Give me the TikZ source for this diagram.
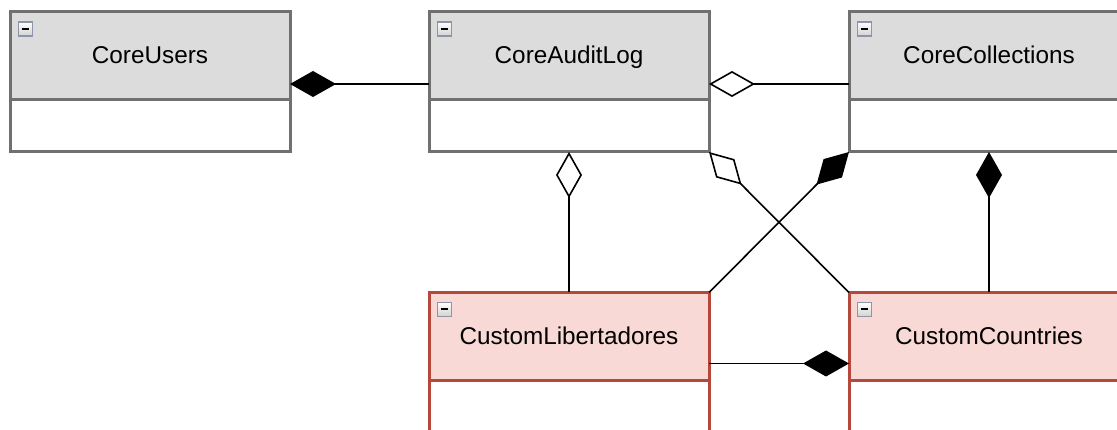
\documentclass[tikz,border=0pt]{standalone}
\usepackage{fontspec}
\setmainfont{Liberation Sans}
\usetikzlibrary{positioning,arrows.meta}
\definecolor{coregray}{HTML}{DCDCDC}
\definecolor{coreline}{HTML}{707070}
\definecolor{custpink}{HTML}{F9D9D5}
\definecolor{custline}{HTML}{B5483A}
\definecolor{iconline}{HTML}{8C96A8}
\begin{document}
\begin{tikzpicture}[x=1pt,y=-1pt,
  classhead/.style={rectangle, draw, line width=3pt, outer sep=0pt, minimum width=280pt, minimum height=88pt, text height=21pt, text depth=5pt, font=\fontsize{24.3}{29}\selectfont},
  corehead/.style={classhead, draw=coreline, fill=coregray},
  custhead/.style={classhead, draw=custline, fill=custpink},
  corebody/.style={rectangle, draw=coreline, line width=3pt, outer sep=0pt, fill=white, minimum width=280pt, minimum height=52pt},
  custbody/.style={corebody, draw=custline, minimum height=62pt},
  minusicon/.style={rectangle, draw=iconline, line width=1.5pt, top color=white, bottom color=black!18, minimum size=14pt, inner sep=0pt,
    path picture={\fill[black] ([xshift=-3.5pt,yshift=-1pt]path picture bounding box.center) rectangle ([xshift=3.5pt,yshift=1pt]path picture bounding box.center);}},
  comp/.style={draw, line width=1.6pt, -{Diamond[length=46pt,width=26pt]}},
  aggr/.style={draw, line width=1.6pt, -{Diamond[open,length=46pt,width=26pt,fill=white]}}]
\useasboundingbox (0,0) rectangle (1117,430);
\clip (0,0) rectangle (1117,430);
\node[corehead] (users) at (150,56) {CoreUsers};
\node[corebody, below=0pt of users] (usersbody) {};
\node[minusicon] (usersicon) at ([shift={(15.5pt,-17pt)}]users.north west) {};
\node[corehead] (audit) at (569,56) {CoreAuditLog};
\node[corebody, below=0pt of audit] (auditbody) {};
\node[minusicon] (auditicon) at ([shift={(15.5pt,-17pt)}]audit.north west) {};
\node[corehead] (coll) at (989,56) {CoreCollections};
\node[corebody, below=0pt of coll] (collbody) {};
\node[minusicon] (collicon) at ([shift={(15.5pt,-17pt)}]coll.north west) {};
\node[custhead] (libert) at (569,336.5) {CustomLibertadores};
\node[custbody, below=0pt of libert] (libertbody) {};
\node[minusicon] (liberticon) at ([shift={(15.5pt,-17pt)}]libert.north west) {};
\node[custhead] (countries) at (989,336.5) {CustomCountries};
\node[custbody, below=0pt of countries] (countriesbody) {};
\node[minusicon] (countriesicon) at ([shift={(15.5pt,-17pt)}]countries.north west) {};
% associations
\draw[comp] ([yshift=-28pt]audit.west) -- ([yshift=-28pt]users.east);
\draw[aggr] ([yshift=-28pt]coll.west) -- ([yshift=-28pt]audit.east);
\draw[aggr] (libert.north) -- (auditbody.south);
\draw[aggr] (countries.north west) -- (auditbody.south east);
\draw[comp] (libert.north east) -- (collbody.south west);
\draw[comp] (countries.north) -- (collbody.south);
\draw[comp] ([yshift=-27pt]libert.east) -- ([yshift=-27pt]countries.west);
\end{tikzpicture}
\end{document}
